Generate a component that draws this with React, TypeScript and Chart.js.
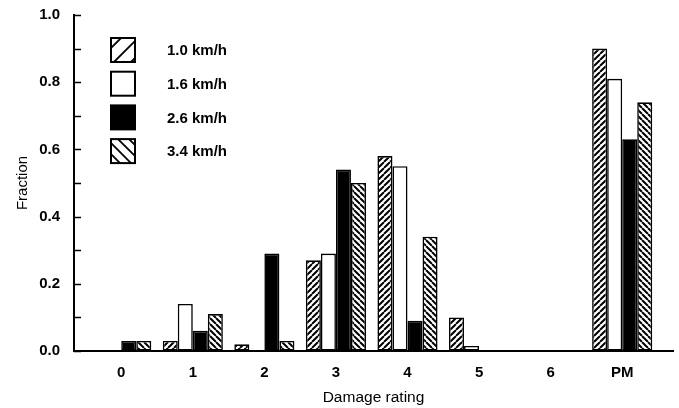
import React, { useEffect, useRef } from "react";
import { Chart, registerables } from "chart.js";

Chart.register(...registerables);

const categories = ["0", "1", "2", "3", "4", "5", "6", "PM"];
const seriesLabels = ["1.0 km/h", "1.6 km/h", "2.6 km/h", "3.4 km/h"];
const speed10 = [0, 0.03, 0.02, 0.27, 0.58, 0.1, 0, 0.9];
const speed16 = [0, 0.14, 0, 0.29, 0.55, 0.015, 0, 0.81];
const speed26 = [0.03, 0.06, 0.29, 0.54, 0.09, 0, 0.003, 0.63];
const speed34 = [0.03, 0.11, 0.03, 0.5, 0.34, 0, 0, 0.74];
const yTicks = [0, 0.2, 0.4, 0.6, 0.8, 1.0];

const FONT = "'Liberation Sans', Arial, Helvetica, sans-serif";

type Fill = "fwd" | "white" | "black" | "back";
const fills: Fill[] = ["fwd", "white", "black", "back"];

function makeHatch(kind: "fwd" | "back", size: number, lw: number): CanvasPattern | string {
  const c = document.createElement("canvas");
  c.width = size;
  c.height = size;
  const g = c.getContext("2d");
  if (!g) return "#fff";
  g.fillStyle = "#fff";
  g.fillRect(0, 0, size, size);
  g.strokeStyle = "#000";
  g.lineWidth = lw;
  g.beginPath();
  for (const k of [-size, 0, size]) {
    if (kind === "fwd") {
      g.moveTo(k, size);
      g.lineTo(k + size, 0);
    } else {
      g.moveTo(k, 0);
      g.lineTo(k + size, size);
    }
  }
  g.stroke();
  return g.createPattern(c, "repeat") || "#fff";
}

function fillFor(f: Fill): CanvasPattern | string {
  if (f === "white") return "#ffffff";
  if (f === "black") return "#000000";
  return makeHatch(f, 6, 2);
}

const legendPlugin = {
  id: "boxLegend",
  afterDraw(chart: any) {
    const { ctx, chartArea } = chart;
    const x0 = chartArea.left + 37;
    const textX = chartArea.left + 93;
    const cy0 = chartArea.top + 35;
    const step = 33.7;
    const bw = 24;
    ctx.save();
    chart.data.datasets.forEach((ds: any, i: number) => {
      const cy = cy0 + i * step;
      const x = x0;
      const y = cy - bw / 2;
      const kind: Fill = fills[i];
      ctx.fillStyle = kind === "black" ? "#000" : "#fff";
      ctx.fillRect(x, y, bw, bw);
      if (kind === "fwd" || kind === "back") {
        ctx.save();
        ctx.beginPath();
        ctx.rect(x, y, bw, bw);
        ctx.clip();
        ctx.strokeStyle = "#000";
        ctx.lineWidth = 1.8;
        ctx.beginPath();
        const sp = kind === "fwd" ? 17 : 11;
        for (let k = -2 * bw; k <= 2 * bw; k += sp) {
          if (kind === "fwd") {
            ctx.moveTo(x + k, y + bw);
            ctx.lineTo(x + k + bw, y);
          } else {
            ctx.moveTo(x + k, y);
            ctx.lineTo(x + k + bw, y + bw);
          }
        }
        ctx.stroke();
        ctx.restore();
      }
      ctx.strokeStyle = "#000";
      ctx.lineWidth = 2;
      ctx.strokeRect(x, y, bw, bw);
      ctx.fillStyle = "#000";
      ctx.font = `bold 15px ${FONT}`;
      ctx.textAlign = "left";
      ctx.textBaseline = "middle";
      ctx.fillText(ds.label, textX, cy + 1);
    });
    ctx.restore();
  },
};

const innerTicksPlugin = {
  id: "innerTicks",
  afterDraw(chart: any) {
    const { ctx, chartArea } = chart;
    const y = chart.scales.y;
    const vals: number[] = [];
    for (let i = 0; i < yTicks.length; i++) {
      vals.push(yTicks[i]);
      if (i < yTicks.length - 1) vals.push((yTicks[i] + yTicks[i + 1]) / 2);
    }
    ctx.save();
    ctx.strokeStyle = "#000";
    ctx.lineWidth = 1.6;
    ctx.beginPath();
    vals.forEach((v) => {
      const py = Math.round(y.getPixelForValue(v)) + 0.5;
      ctx.moveTo(chartArea.left, py);
      ctx.lineTo(chartArea.left + 7, py);
    });
    ctx.stroke();
    ctx.restore();
  },
};

export default function App() {
  const ref = useRef<HTMLCanvasElement | null>(null);

  useEffect(() => {
    if (!ref.current) return;
    const series = [speed10, speed16, speed26, speed34];
    const chart = new Chart(ref.current, {
      type: "bar",
      data: {
        datasets: series.map((vals, i) => ({
          label: seriesLabels[i],
          data: vals.map((v, j) => ({ x: j, y: v })),
          backgroundColor: fillFor(fills[i]) as any,
          borderColor: "#000",
          borderWidth: 1.6,
          borderSkipped: false,
          categoryPercentage: 0.84,
          barPercentage: 1.0,
        })),
      },
      options: {
        animation: false,
        responsive: true,
        maintainAspectRatio: false,
        layout: { padding: { top: 15, right: 6, left: 0, bottom: 0 } },
        plugins: {
          legend: { display: false },
          tooltip: { enabled: false },
        },
        scales: {
          x: {
            type: "linear",
            offset: false,
            min: -0.66,
            max: 7.71,
            afterBuildTicks: (axis: any) => {
              axis.ticks = categories.map((_, i) => ({ value: i }));
            },
            afterFit: (scale: any) => {
              scale.height = 57;
            },
            grid: { display: true, offset: false, drawOnChartArea: false, drawTicks: false },
            border: { display: true, color: "#000", width: 2 },
            ticks: {
              padding: 13,
              color: "#000",
              font: { family: FONT, size: 15, weight: "bold" },
              callback: (v: any) => categories[Math.round(Number(v))] ?? "",
              maxRotation: 0,
              autoSkip: false,
            },
            title: {
              display: true,
              text: "Damage rating",
              color: "#000",
              font: { family: FONT, size: 15.5 },
              padding: { top: 0, bottom: 1 },
            },
          },
          y: {
            min: 0,
            max: 1,
            afterBuildTicks: (axis: any) => {
              axis.ticks = yTicks.map((v) => ({ value: v }));
            },
            afterFit: (scale: any) => {
              scale.width = 74;
              scale.paddingTop = 0;
              scale.paddingBottom = 0;
            },
            grid: { display: true, drawOnChartArea: false, drawTicks: false },
            border: { display: true, color: "#000", width: 2 },
            ticks: {
              padding: 14,
              color: "#000",
              font: { family: FONT, size: 15, weight: "bold" },
              callback: (v: any) => Number(v).toFixed(1),
            },
            title: {
              display: true,
              text: "Fraction",
              color: "#000",
              font: { family: FONT, size: 15 },
              padding: { top: 14, bottom: 0 },
            },
          },
        },
      } as any,
      plugins: [legendPlugin, innerTicksPlugin],
    });
    return () => chart.destroy();
  }, []);

  return (
    <div style={{ position: "absolute", left: 0, top: 0, width: 679, height: 408, background: "#fff" }}>
      <canvas ref={ref} />
    </div>
  );
}
